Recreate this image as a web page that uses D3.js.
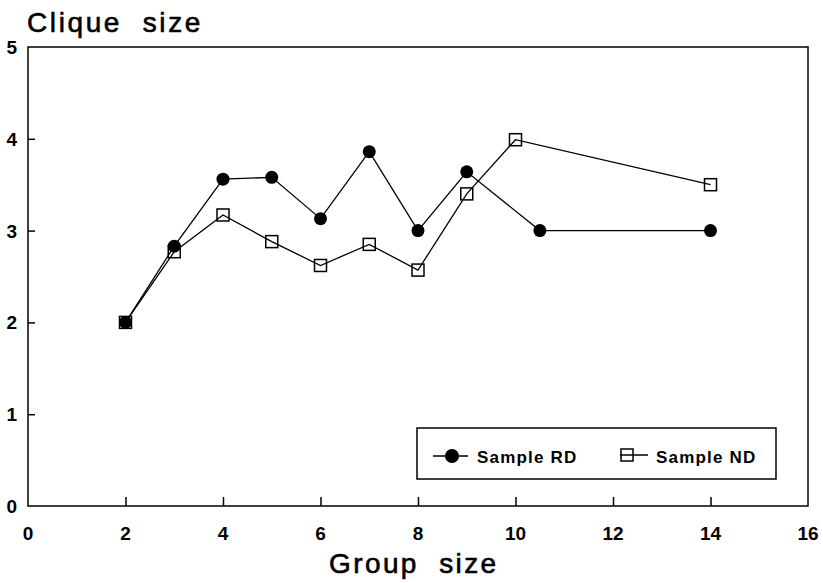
<!DOCTYPE html>
<html>
<head>
<meta charset="utf-8">
<script src="https://cdn.jsdelivr.net/npm/d3@7"></script>
<style>
  body { margin: 0; background: #fff; }
  text { font-family: "Liberation Sans", Arial, sans-serif; fill: #000; white-space: pre; }
</style>
</head>
<body>
<svg id="chart" width="823" height="583"></svg>
<script>
// data
var rdGroup = [2, 3, 4, 5, 6, 7, 8, 9, 10.5, 14]
  , rdClique = [2.0, 2.83, 3.56, 3.58, 3.13, 3.86, 3.0, 3.64, 3.0, 3.0]
  , ndGroup = [2, 3, 4, 5, 6, 7, 8, 9, 10, 14]
  , ndClique = [2.0, 2.77, 3.17, 2.88, 2.62, 2.85, 2.57, 3.40, 3.99, 3.50]
  , xTicks = [0, 2, 4, 6, 8, 10, 12, 14, 16]
  , yTicks = [0, 1, 2, 3, 4, 5]

var svg = d3.select('svg#chart')
  , box = {left: 28, right: 808, top: 47, bottom: 506}

var x = d3.scaleLinear().domain([0, 16]).range([box.left, box.right])
  , y = d3.scaleLinear().domain([0, 5]).range([box.bottom, box.top])

var rd = rdGroup.map(function(g, i) { return {x: g, y: rdClique[i]} })
  , nd = ndGroup.map(function(g, i) { return {x: g, y: ndClique[i]} })

// frame
svg.append('rect')
  .attr('x', box.left).attr('y', box.top)
  .attr('width', box.right - box.left).attr('height', box.bottom - box.top)
  .attr('fill', 'none').attr('stroke', '#000').attr('stroke-width', 1.5)

// axes: inward ticks, bold labels
var xAxis = svg.append('g').attr('transform', 'translate(0,' + box.bottom + ')')
  .call(d3.axisTop(x).tickValues(xTicks).tickSize(9).tickFormat(''))
xAxis.select('.domain').remove()
xAxis.selectAll('line').attr('stroke-width', 1.5)
  .filter(function(d) { return d === 0 || d === 16 }).remove()

var yAxis = svg.append('g').attr('transform', 'translate(' + box.left + ',0)')
  .call(d3.axisRight(y).tickValues(yTicks).tickSize(7).tickFormat(''))
yAxis.select('.domain').remove()
yAxis.selectAll('line').attr('stroke-width', 1.5)
  .filter(function(d) { return d === 0 || d === 5 }).remove()

svg.selectAll('text.xlab').data(xTicks)
  .enter().append('text').classed('xlab', true)
  .attr('x', function(d) { return x(d) }).attr('y', 540)
  .attr('text-anchor', 'middle')
  .style('font-size', '19px').style('font-weight', 'bold')
  .text(function(d) { return d })

svg.selectAll('text.ylab').data(yTicks)
  .enter().append('text').classed('ylab', true)
  .attr('x', 17).attr('y', function(d) { return y(d) + 7 })
  .attr('text-anchor', 'end')
  .style('font-size', '19px').style('font-weight', 'bold')
  .text(function(d) { return d })

svg.append('text').attr('x', 27).attr('y', 32)
  .style('font-size', '28px').style('letter-spacing', '2.6px')
  .attr('stroke', '#000').attr('stroke-width', 0.6)
  .text('Clique  size')

svg.append('text').attr('x', 329).attr('y', 573)
  .style('font-size', '28px').style('letter-spacing', '2.4px')
  .attr('stroke', '#000').attr('stroke-width', 0.6)
  .text('Group  size')

// series
var line = d3.line().x(function(d) { return x(d.x) }).y(function(d) { return y(d.y) })

svg.append('path').datum(nd).attr('d', line)
  .attr('fill', 'none').attr('stroke', '#000').attr('stroke-width', 1.3)
svg.append('path').datum(rd).attr('d', line)
  .attr('fill', 'none').attr('stroke', '#000').attr('stroke-width', 1.3)

svg.selectAll('circle.rd').data(rd)
  .enter().append('circle').classed('rd', true)
  .attr('cx', function(d) { return x(d.x) })
  .attr('cy', function(d) { return y(d.y) })
  .attr('r', 6.5).attr('fill', '#000')

svg.selectAll('rect.nd').data(nd)
  .enter().append('rect').classed('nd', true)
  .attr('x', function(d) { return x(d.x) - 6 })
  .attr('y', function(d) { return y(d.y) - 6 })
  .attr('width', 12).attr('height', 12)
  .attr('fill', 'none').attr('stroke', '#000').attr('stroke-width', 1.5)

// legend
var lg = svg.append('g')
lg.append('rect').attr('x', 417).attr('y', 428).attr('width', 359).attr('height', 51)
  .attr('fill', '#fff').attr('stroke', '#000').attr('stroke-width', 1.5)
lg.append('line').attr('x1', 433).attr('x2', 468).attr('y1', 456).attr('y2', 456)
  .attr('stroke', '#000').attr('stroke-width', 1.5)
lg.append('circle').attr('cx', 452).attr('cy', 456).attr('r', 7).attr('fill', '#000')
lg.append('text').attr('x', 477).attr('y', 463)
  .style('font-size', '17px').style('font-weight', 'bold').style('letter-spacing', '1.2px')
  .text('Sample RD')
lg.append('line').attr('x1', 620).attr('x2', 648).attr('y1', 455).attr('y2', 455)
  .attr('stroke', '#000').attr('stroke-width', 1.5)
lg.append('rect').attr('x', 621).attr('y', 449).attr('width', 12).attr('height', 12)
  .attr('fill', 'none').attr('stroke', '#000').attr('stroke-width', 1.5)
lg.append('text').attr('x', 656).attr('y', 463)
  .style('font-size', '17px').style('font-weight', 'bold').style('letter-spacing', '1.2px')
  .text('Sample ND')
</script>
</body>
</html>
